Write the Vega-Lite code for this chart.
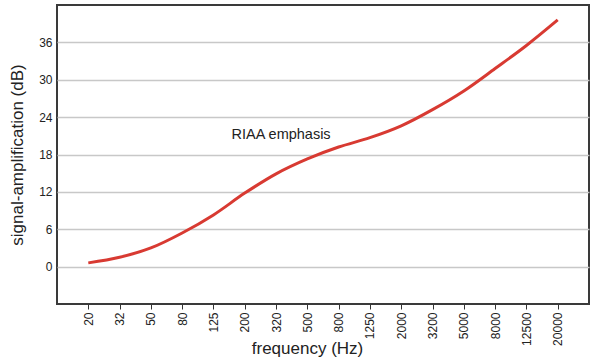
{
  "$schema": "https://vega.github.io/schema/vega-lite/v6.json",
  "width": 532,
  "height": 299,
  "autosize": {"type": "none"},
  "padding": {"left": 57, "top": 5, "right": 11, "bottom": 56},
  "background": "white",
  "config": {
    "font": "Liberation Sans",
    "view": {"stroke": "#3a3a3a", "strokeWidth": 2},
    "axis": {
      "labelFont": "Liberation Sans",
      "titleFont": "Liberation Sans",
      "labelColor": "#222222",
      "titleColor": "#222222",
      "labelFontSize": 12,
      "titleFontSize": 17,
      "titleFontWeight": "normal",
      "domain": false,
      "gridColor": "#c8c8c8",
      "gridWidth": 1.5
    }
  },
  "data": {
    "values": [
      {"freq": "20", "db": 0.6},
      {"freq": "32", "db": 1.5},
      {"freq": "50", "db": 3.0},
      {"freq": "80", "db": 5.4},
      {"freq": "125", "db": 8.3},
      {"freq": "200", "db": 11.8},
      {"freq": "320", "db": 14.9},
      {"freq": "500", "db": 17.3},
      {"freq": "800", "db": 19.2},
      {"freq": "1250", "db": 20.7},
      {"freq": "2000", "db": 22.6},
      {"freq": "3200", "db": 25.2},
      {"freq": "5000", "db": 28.2},
      {"freq": "8000", "db": 31.8},
      {"freq": "12500", "db": 35.5},
      {"freq": "20000", "db": 39.6}
    ]
  },
  "layer": [
    {
      "mark": {"type": "line", "color": "#d83a32", "strokeWidth": 3, "interpolate": "monotone"},
      "encoding": {
        "x": {
          "field": "freq",
          "type": "ordinal",
          "sort": ["20", "32", "50", "80", "125", "200", "320", "500", "800", "1250", "2000", "3200", "5000", "8000", "12500", "20000"],
          "scale": {"type": "point", "padding": 1, "domain": ["20", "32", "50", "80", "125", "200", "320", "500", "800", "1250", "2000", "3200", "5000", "8000", "12500", "20000"]},
          "axis": {
            "title": "frequency (Hz)",
            "labelAngle": -90,
            "labelPadding": 3,
            "tickSize": 5,
            "tickColor": "#333333",
            "tickWidth": 1,
            "grid": false,
            "titleX": 250,
            "titleY": 36,
            "titleAlign": "center"
          }
        },
        "y": {
          "field": "db",
          "type": "quantitative",
          "scale": {"domain": [-6, 42], "nice": false, "zero": false},
          "axis": {
            "title": "signal-amplification (dB)",
            "values": [0, 6, 12, 18, 24, 30, 36],
            "ticks": false,
            "labelPadding": 5,
            "titlePadding": 12
          }
        }
      }
    },
    {
      "data": {"values": [{"freq": "320", "db": 21.1, "label": "RIAA emphasis"}]},
      "mark": {"type": "text", "fontSize": 14.5, "color": "#222222", "align": "center", "baseline": "middle", "dx": 5},
      "encoding": {
        "x": {"field": "freq", "type": "ordinal", "sort": ["20", "32", "50", "80", "125", "200", "320", "500", "800", "1250", "2000", "3200", "5000", "8000", "12500", "20000"]},
        "y": {"field": "db", "type": "quantitative"},
        "text": {"field": "label"}
      }
    }
  ]
}
